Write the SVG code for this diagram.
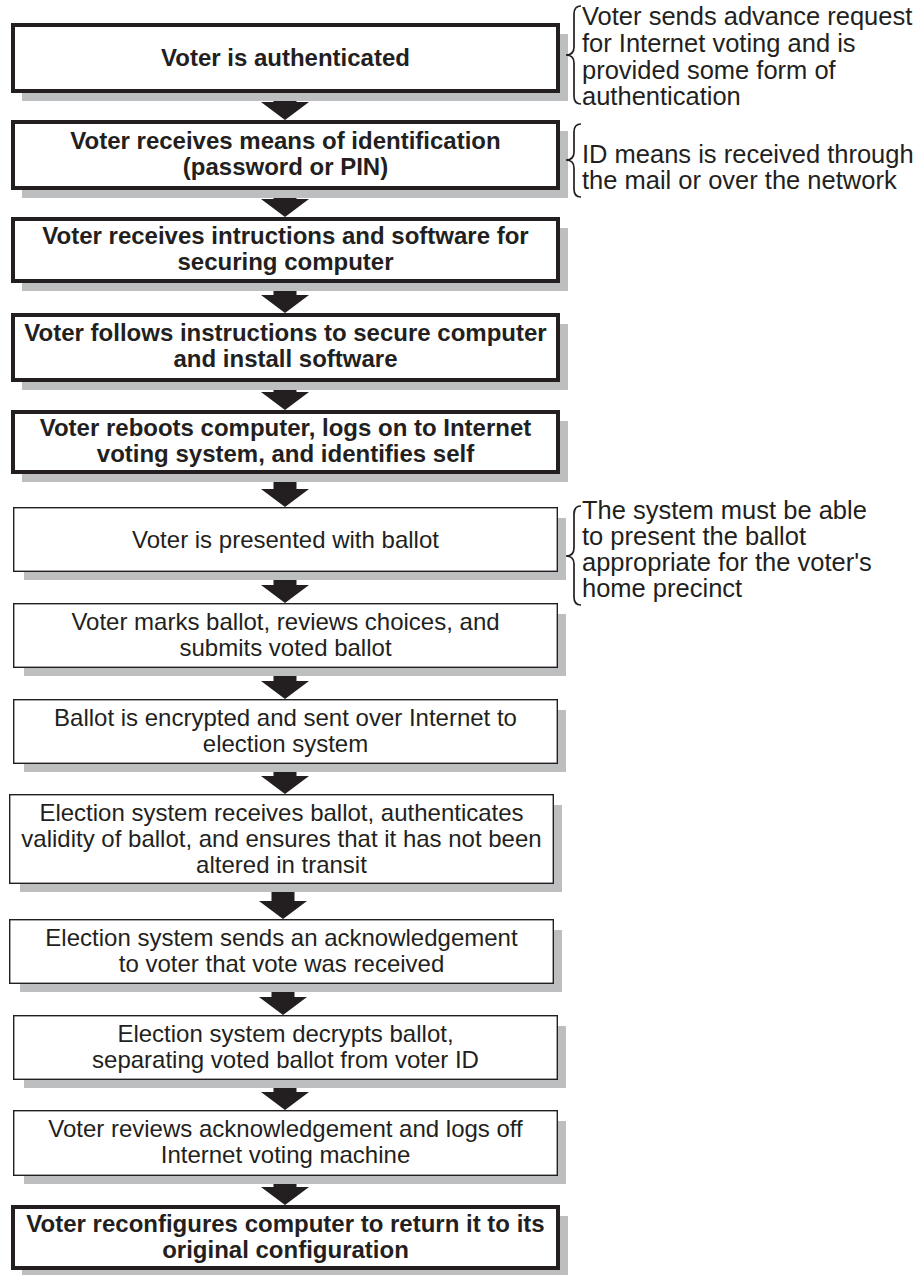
<svg xmlns="http://www.w3.org/2000/svg" width="919" height="1275" viewBox="0 0 919 1275">
<style>
.bg{fill:#ffffff}
.sh{fill:#bcbec0}
.bold{fill:#ffffff;stroke:#231f20;stroke-width:4}
.thin{fill:#ffffff;stroke:#231f20;stroke-width:1.4}
.tb{font-family:"Liberation Sans",Arial,sans-serif;font-size:24px;font-weight:bold;fill:#231f20;text-anchor:middle}
.tr{font-family:"Liberation Sans",Arial,sans-serif;font-size:24px;fill:#231f20;text-anchor:middle}
.note{font-family:"Liberation Sans",Arial,sans-serif;font-size:25.5px;fill:#231f20}
.arrow{fill:#231f20}
.brace{fill:none;stroke:#231f20;stroke-width:1.7}
</style>
<rect class="bg" x="0" y="0" width="919" height="1275"/>

<g id="connectors">
<polygon class="arrow" points="273.5,93 296.5,93 296.5,102 309,102 285,120 261,102 273.5,102"/>
<polygon class="arrow" points="273.5,190 296.5,190 296.5,199 309,199 285,217 261,199 273.5,199"/>
<polygon class="arrow" points="273.5,283 296.5,283 296.5,295 309,295 285,313 261,295 273.5,295"/>
<polygon class="arrow" points="273.5,382 296.5,382 296.5,392 309,392 285,410 261,392 273.5,392"/>
<polygon class="arrow" points="273.5,474 296.5,474 296.5,489 309,489 285,507 261,489 273.5,489"/>
<polygon class="arrow" points="273.5,572 296.5,572 296.5,585 309,585 285,603 261,585 273.5,585"/>
<polygon class="arrow" points="273.5,668 296.5,668 296.5,681 309,681 285,699 261,681 273.5,681"/>
<polygon class="arrow" points="273.5,764 296.5,764 296.5,776 309,776 285,794 261,776 273.5,776"/>
<polygon class="arrow" points="271.5,884 294.5,884 294.5,901 307,901 283,919 259,901 271.5,901"/>
<polygon class="arrow" points="271.5,984 294.5,984 294.5,997 307,997 283,1015 259,997 271.5,997"/>
<polygon class="arrow" points="273.5,1080 296.5,1080 296.5,1092 309,1092 285,1110 261,1092 273.5,1092"/>
<polygon class="arrow" points="273.5,1176 296.5,1176 296.5,1187 309,1187 285,1205 261,1187 273.5,1187"/>
</g>

<g id="n1">
<rect class="sh" x="22" y="34" width="546" height="67"/>
<rect class="bold" x="13" y="25" width="545" height="66"/>
<text class="tb" x="285.5" y="66">Voter is authenticated</text>
</g>
<g id="n2">
<rect class="sh" x="22" y="131" width="546" height="67"/>
<rect class="bold" x="13" y="122" width="545" height="66"/>
<text class="tb" x="285.5" y="149">Voter receives means of identification</text>
<text class="tb" x="285.5" y="175">(password or PIN)</text>
</g>
<g id="n3">
<rect class="sh" x="22" y="228" width="546" height="63"/>
<rect class="bold" x="13" y="219" width="545" height="62"/>
<text class="tb" x="285.5" y="244">Voter receives intructions and software for</text>
<text class="tb" x="285.5" y="270">securing computer</text>
</g>
<g id="n4">
<rect class="sh" x="22" y="324" width="546" height="66"/>
<rect class="bold" x="13" y="315" width="545" height="65"/>
<text class="tb" x="285.5" y="341">Voter follows instructions to secure computer</text>
<text class="tb" x="285.5" y="367">and install software</text>
</g>
<g id="n5">
<rect class="sh" x="22" y="421" width="546" height="61"/>
<rect class="bold" x="13" y="412" width="545" height="60"/>
<text class="tb" x="285.5" y="436">Voter reboots computer, logs on to Internet</text>
<text class="tb" x="285.5" y="462">voting system, and identifies self</text>
</g>
<g id="n6">
<rect class="sh" x="24" y="518" width="542" height="62"/>
<rect class="thin" x="13.7" y="507.7" width="543.6" height="63.6"/>
<text class="tr" x="285.5" y="548">Voter is presented with ballot</text>
</g>
<g id="n7">
<rect class="sh" x="24" y="614" width="542" height="62"/>
<rect class="thin" x="13.7" y="603.7" width="543.6" height="63.6"/>
<text class="tr" x="285.5" y="630">Voter marks ballot, reviews choices, and</text>
<text class="tr" x="285.5" y="656">submits voted ballot</text>
</g>
<g id="n8">
<rect class="sh" x="24" y="710" width="542" height="62"/>
<rect class="thin" x="13.7" y="699.7" width="543.6" height="63.6"/>
<text class="tr" x="285.5" y="726">Ballot is encrypted and sent over Internet to</text>
<text class="tr" x="285.5" y="752">election system</text>
</g>
<g id="n9">
<rect class="sh" x="20" y="805" width="542" height="87"/>
<rect class="thin" x="9.7" y="794.7" width="543.6" height="88.6"/>
<text class="tr" x="281.5" y="821">Election system receives ballot, authenticates</text>
<text class="tr" x="281.5" y="847">validity of ballot, and ensures that it has not been</text>
<text class="tr" x="281.5" y="873">altered in transit</text>
</g>
<g id="n10">
<rect class="sh" x="20" y="930" width="542" height="62"/>
<rect class="thin" x="9.7" y="919.7" width="543.6" height="63.6"/>
<text class="tr" x="281.5" y="946">Election system sends an acknowledgement</text>
<text class="tr" x="281.5" y="972">to voter that vote was received</text>
</g>
<g id="n11">
<rect class="sh" x="24" y="1026" width="542" height="62"/>
<rect class="thin" x="13.7" y="1015.7" width="543.6" height="63.6"/>
<text class="tr" x="285.5" y="1042">Election system decrypts ballot,</text>
<text class="tr" x="285.5" y="1068">separating voted ballot from voter ID</text>
</g>
<g id="n12">
<rect class="sh" x="24" y="1121" width="542" height="63"/>
<rect class="thin" x="13.7" y="1110.7" width="543.6" height="64.6"/>
<text class="tr" x="285.5" y="1137">Voter reviews acknowledgement and logs off</text>
<text class="tr" x="285.5" y="1163">Internet voting machine</text>
</g>
<g id="n13">
<rect class="sh" x="22" y="1216" width="546" height="59"/>
<rect class="bold" x="13" y="1207" width="545" height="61"/>
<text class="tb" x="285.5" y="1232">Voter reconfigures computer to return it to its</text>
<text class="tb" x="285.5" y="1258">original configuration</text>
</g>

<g id="note1">
<path class="brace" d="M581,6 Q574,6 574,14 L574,47 Q574,55 566,55 Q574,55 574,63 L574,96 Q574,104 581,104"/>
<text class="note" x="582" y="25">Voter sends advance request</text>
<text class="note" x="582" y="52">for Internet voting and is</text>
<text class="note" x="582" y="79">provided some form of</text>
<text class="note" x="582" y="105">authentication</text>
</g>
<g id="note2">
<path class="brace" d="M581,124 Q574,124 574,132 L574,152 Q574,160 566,160 Q574,160 574,168 L574,189 Q574,197 581,197"/>
<text class="note" x="582" y="163">ID means is received through</text>
<text class="note" x="582" y="189">the mail or over the network</text>
</g>
<g id="note3">
<path class="brace" d="M581,506 Q574,506 574,514 L574,548 Q574,556 566,556 Q574,556 574,564 L574,597 Q574,605 581,605"/>
<text class="note" x="582" y="519">The system must be able</text>
<text class="note" x="582" y="545">to present the ballot</text>
<text class="note" x="582" y="571">appropriate for the voter's</text>
<text class="note" x="582" y="597">home precinct</text>
</g>
</svg>
